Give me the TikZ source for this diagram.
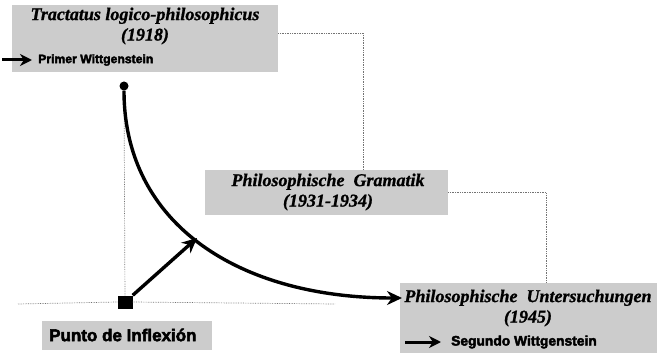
\documentclass[tikz,border=0pt]{standalone}
\usepackage{fontspec}
\setmainfont{Liberation Serif}
\setsansfont{Liberation Sans}
\newfontfamily\heavysans{Liberation Sans Bold}[FakeBold=3]
\newfontfamily\heavyserif{Liberation Serif Bold Italic}[FakeBold=1]
\usetikzlibrary{arrows.meta}
\tikzset{
  graybox/.style={draw=none,fill=black!20,inner sep=0pt},
  titletext/.style={font=\fontsize{18}{20.5}\heavyserif,align=center,inner sep=0pt},
  labeltext/.style={inner sep=0pt,anchor=west},
  dotline/.style={draw=black!55,densely dotted,line width=0.7pt},
  bigline/.style={line width=3.4pt,-{Stealth[length=15pt,width=14pt]}},
  smallarrow/.style={line width=3pt,-{Stealth[length=12pt,width=12pt]}}
}
\begin{document}
\begin{tikzpicture}[x=1pt,y=-1pt]
\useasboundingbox (0,0) rectangle (657,353);
% boxes
\node[graybox,minimum width=266pt,minimum height=67pt] (tract) at (145,38.5) {};
\node[graybox,minimum width=243pt,minimum height=45pt] (gram) at (326.5,192.5) {};
\node[graybox,minimum width=257pt,minimum height=70pt] (unt) at (528.5,318) {};
\node[graybox,minimum width=170pt,minimum height=29pt] (punto) at (127,335.5) {};
% texts
\node[titletext] (t1) at (145,26) {Tractatus logico-philosophicus\\(1918)};
\node[labeltext,font=\fontsize{12.2}{14}\heavysans] (primer) at (38,60) {Primer Wittgenstein};
\node[titletext] (t2) at (328,192) {Philosophische\ \ Gramatik\\(1931-1934)};
\node[titletext] (t3) at (528,308) {Philosophische\ \ Untersuchungen\\(1945)};
\node[labeltext,font=\fontsize{13.8}{16}\heavysans] (segundo) at (451,342) {Segundo Wittgenstein};
\node[labeltext,font=\fontsize{17}{19}\heavysans] (pdi) at (49,335) {Punto de Inflexión};
% coordinates
\coordinate (a1s) at (2,60);
\coordinate (a2s) at (405,342);
\coordinate (c1) at (363,170);
\coordinate (c2) at (546,283);
\coordinate (h1) at (18,304);
\coordinate (h2) at (335,304);
\coordinate (tip) at (197,238);
\coordinate (end) at (402,298);
% markers
\node[circle,fill=black,minimum size=9pt,inner sep=0pt] (dot) at (124,86) {};
\node[rectangle,fill=black,minimum width=15pt,minimum height=13pt,inner sep=0pt] (sq) at (125,302) {};
% dotted connectors
\draw[dotline] ([yshift=5.5pt]tract.east) -| (c1);
\draw[dotline] (gram.east) -| (c2);
\draw[dotline] (dot) -- (sq);
\draw[dotline] (h1) -- (sq.west);
\draw[dotline] (sq.east) -- (h2);
% arrows
\draw[smallarrow] (a1s) -- ([xshift=-6pt]primer.west);
\draw[smallarrow] (a2s) -- ([xshift=-10pt]segundo.west);
\draw[bigline] (dot.south) .. controls (124,225) and (240,298) .. (end);
\draw[bigline] (sq.north east) -- (tip);
\end{tikzpicture}
\end{document}
